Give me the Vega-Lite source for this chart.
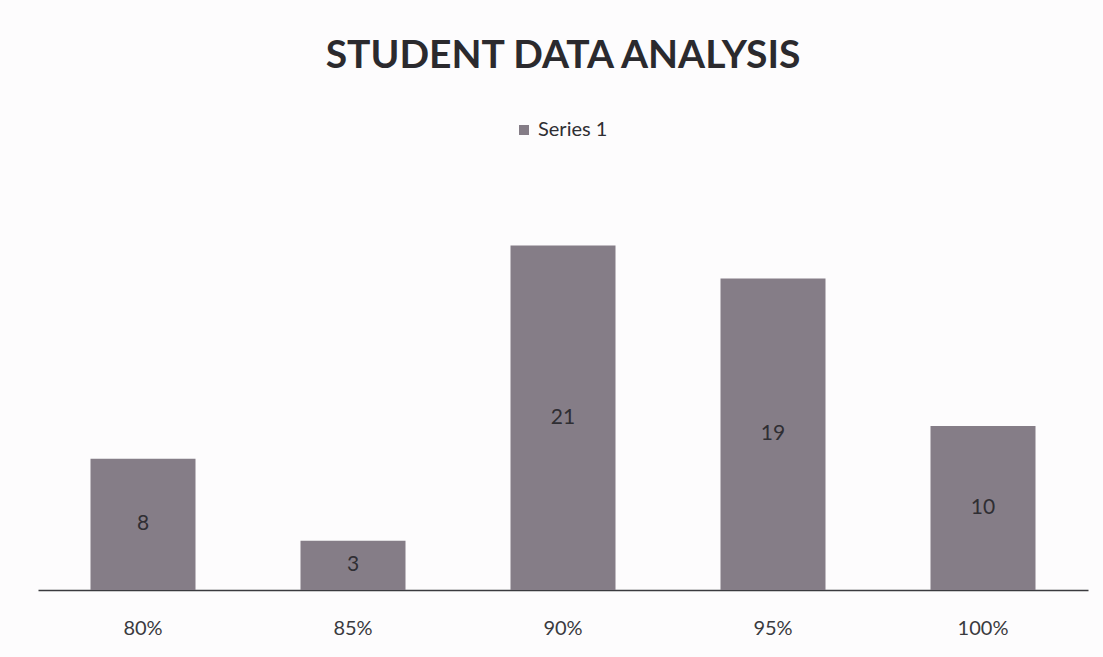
{
  "$schema": "https://vega.github.io/schema/vega-lite/v6.json",
  "autosize": "none",
  "width": 1050,
  "height": 410,
  "padding": {"left": 38, "top": 180, "right": 15, "bottom": 67},
  "background": "#fdfcfd",
  "title": {
    "text": "STUDENT DATA ANALYSIS",
    "font": "Lato",
    "fontSize": 39,
    "fontWeight": "bold",
    "color": "#2b2a2e",
    "anchor": "middle",
    "offset": 44
  },
  "data": {
    "values": [
      {"score": "80%", "count": 8, "series": "Series 1"},
      {"score": "85%", "count": 3, "series": "Series 1"},
      {"score": "90%", "count": 21, "series": "Series 1"},
      {"score": "95%", "count": 19, "series": "Series 1"},
      {"score": "100%", "count": 10, "series": "Series 1"}
    ]
  },
  "encoding": {
    "x": {
      "field": "score",
      "type": "nominal",
      "sort": null,
      "scale": {"paddingInner": 0.5, "paddingOuter": 0.25},
      "axis": {
        "title": null,
        "labelAngle": 0,
        "labelFont": "Lato",
        "labelFontSize": 20,
        "labelColor": "#3a3a3e",
        "labelPadding": 28,
        "ticks": false,
        "domainColor": "#3a3a3e",
        "domainWidth": 1.5
      }
    }
  },
  "layer": [
    {
      "mark": {"type": "bar", "color": "#857d87"},
      "encoding": {
        "y": {
          "field": "count",
          "type": "quantitative",
          "scale": {"domain": [0, 25]},
          "axis": null
        },
        "color": {
          "field": "series",
          "type": "nominal",
          "scale": {"range": ["#857d87"]},
          "legend": {
            "orient": "none",
            "legendX": 476,
            "legendY": -60,
            "title": null,
            "symbolType": "square",
            "symbolSize": 100,
            "labelFont": "Lato",
            "labelFontSize": 20,
            "labelColor": "#2f2e33",
            "symbolStrokeWidth": 0
          }
        }
      }
    },
    {
      "mark": {"type": "text", "font": "Lato", "fontSize": 21, "color": "#2f2e33", "baseline": "middle"},
      "encoding": {
        "y": {
          "field": "count",
          "type": "quantitative",
          "scale": {"domain": [0, 50]},
          "axis": null
        },
        "text": {"field": "count", "type": "quantitative"}
      }
    }
  ],
  "resolve": {"scale": {"y": "independent"}},
  "config": {"view": {"stroke": null}}
}
